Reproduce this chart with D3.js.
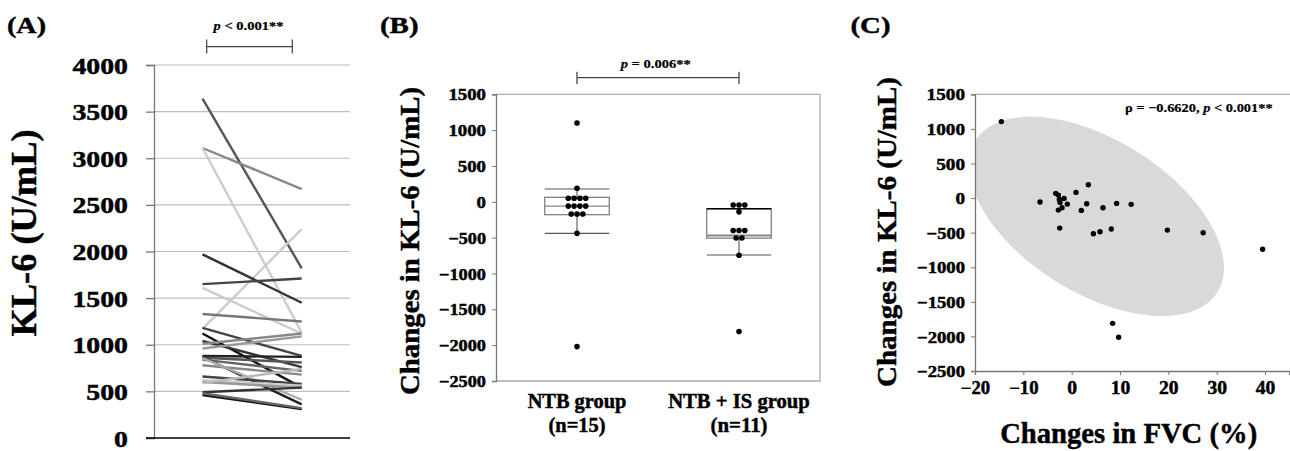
<!DOCTYPE html>
<html><head><meta charset="utf-8">
<script src="https://cdn.jsdelivr.net/npm/d3@7"></script>
<style>
body{margin:0;background:#fff;}
svg{display:block;}
text{font-family:"Liberation Serif","Times New Roman",serif;font-weight:bold;fill:#000;stroke:#000;stroke-width:0.45px;}
text.small{stroke-width:0.2px;}
</style></head><body>
<svg id="c" width="1290" height="451"></svg>
<script>
// ---------- Panel A data ----------
const timepoints = ["Before", "After"];
const kl6Before = [3640, 3110, 3110, 1170, 1970, 1650, 1610, 1330, 1180, 1120, 1040, 1010, 960, 880, 860, 840, 870, 780, 860, 660, 620, 600, 590, 490, 460, 480];
const kl6After  = [1820, 2670, 1130, 2240, 1450, 1710, 1120, 1250, 880, 540, 760, 1120, 1090, 870, 810, 720, 360, 680, 410, 580, 560, 540, 740, 540, 310, 320];
const lineShades = ["#555","#888","#ccc","#ccc","#333","#444","#ccc","#777","#444","#111","#333","#888","#999","#222","#555","#666","#222","#888","#aaa","#444","#ccc","#999","#bbb","#333","#111","#666"];
const kl6Ticks = [0, 500, 1000, 1500, 2000, 2500, 3000, 3500, 4000];

// ---------- Panel B data ----------
const groups = ["NTB group", "NTB + IS group"];
const groupN = ["(n=15)", "(n=11)"];
const ntbChanges   = [1100, 190, 50, 50, 50, 50, -60, -60, -60, -60, -170, -170, -170, -440, -2020];
const ntbIsChanges = [-45, -45, -45, -140, -400, -400, -400, -505, -505, -745, -1810];
const boxQ3 = [63, -96];
const boxMedian = [-59, -470];
const boxQ1 = [-180, -507];
const whiskerHigh = [179, -96];
const whiskerLow = [-440, -742];
const changeTicks = [-2500, -2000, -1500, -1000, -500, 0, 500, 1000, 1500];

// ---------- Panel C data ----------
const fvcChange = [-14.55, -6.55, -3.3, -2.76, -2.55, -1.58, -2.41, -0.9, -2.0, -2.76, 0.9, 3.45, 3.1, 2.0, 6.48, 9.3, 12.3, -2.48, 4.5, 5.86, 8.2, 19.8, 27.2, 39.5, 8.48, 9.72];
const kl6Change = [1105, -58, 68, 43, -19, -5, -63, -87, -140, -174, 82, 193, -83, -178, -140, -77, -91, -434, -516, -487, -448, -463, -502, -741, -1811, -2013];
const fvcTicks = [-20, -10, 0, 10, 20, 30, 40];
const ellipseCenter = [5.1, -265];
const ellipseSpread = [26.4, 1441];
const ellipseCorr = -0.514;

const svg = d3.select("#c");
const FONT = '"Liberation Serif","Times New Roman",serif';

function fitText(sel, perChar, minusW) {
  sel.each(function () {
    const t = d3.select(this);
    const s = t.text();
    let w = 0;
    for (const ch of s) w += (ch === "-" ? minusW : perChar);
    t.attr("textLength", w).attr("lengthAdjust", "spacingAndGlyphs");
  });
}
function label(x, y, str, size, len, opts = {}) {
  const t = svg.append("text").attr("x", x).attr("y", y)
    .attr("font-size", size).attr("text-anchor", opts.anchor || "start");
  if (opts.cls) t.attr("class", opts.cls);
  if (opts.rotate) t.attr("transform", `rotate(-90,${x},${y})`);
  if (opts.parts) {
    opts.parts.forEach(p => t.append("tspan").attr("font-style", p[1] ? "italic" : null).text(p[0]));
  } else t.text(str);
  if (len) t.attr("textLength", len).attr("lengthAdjust", "spacingAndGlyphs");
  return t;
}

// ================= Panel A =================
const yA = d3.scaleLinear().domain([0, 4000]).range([438, 65]);
const xA = d3.scalePoint().domain(timepoints).range([202.5, 301.7]);
const gA = svg.append("g");
gA.selectAll("line.grid").data(kl6Ticks.filter(d => d > 0)).join("line")
  .attr("x1", 154).attr("x2", 350).attr("y1", d => yA(d)).attr("y2", d => yA(d))
  .attr("stroke", "#bdbdbd").attr("stroke-width", 1.2);
const axA = gA.append("g").attr("transform", "translate(154,0)")
  .call(d3.axisLeft(yA).tickValues(kl6Ticks).tickSize(8).tickPadding(18).tickFormat(d3.format("d")));
axA.select(".domain").attr("stroke", "#777").attr("stroke-width", 1.3);
axA.selectAll(".tick line").attr("stroke", "#777").attr("stroke-width", 1.3);
axA.selectAll(".tick text").attr("font-size", 23).attr("font-family", FONT).attr("font-weight", "bold").attr("dy", "0.35em");
fitText(axA.selectAll(".tick text"), 13.9, 8);
gA.append("line").attr("x1", 146).attr("x2", 350).attr("y1", yA(0)).attr("y2", yA(0))
  .attr("stroke", "#000").attr("stroke-width", 1.5);
const pairs = kl6Before.map((b, i) => ({ b, a: kl6After[i], c: lineShades[i] }));
gA.selectAll("line.pt").data(pairs).join("line")
  .attr("x1", xA("Before")).attr("x2", xA("After"))
  .attr("y1", d => yA(d.b)).attr("y2", d => yA(d.a))
  .attr("stroke", d => d.c).attr("stroke-width", 2.4);
label(7, 32.5, "(A)", 24, 39);
label(36, 233, "KL-6 (U/mL)", 35, 207, { anchor: "middle", rotate: true });
svg.append("path").attr("d", "M206.7,39.5V53.5M206.7,46.7H292.3M292.3,39.5V53.5")
  .attr("stroke", "#444").attr("stroke-width", 1.2).attr("fill", "none");
label(248.5, 29.5, null, 12.5, 70, { anchor: "middle", cls: "small", parts: [["p", true], [" < 0.001**", false]] });

// ================= Panel B =================
const yB = d3.scaleLinear().domain([-2500, 1500]).range([381, 94.3]);
const xB = d3.scalePoint().domain(groups).range([496, 820]).padding(0.5);
const gB = svg.append("g");
gB.append("path").attr("d", `M496,94.3H820V381H496`).attr("fill", "none").attr("stroke", "#aaa").attr("stroke-width", 1.3);
const axB = gB.append("g").attr("transform", "translate(496,0)")
  .call(d3.axisLeft(yB).tickValues(changeTicks).tickSize(4).tickPadding(6).tickFormat(d3.format("d")));
axB.select(".domain").attr("stroke", "#777").attr("stroke-width", 1.3);
axB.selectAll(".tick line").attr("stroke", "#777");
axB.selectAll(".tick text").attr("font-size", 16).attr("font-family", FONT).attr("font-weight", "bold").attr("dy", "0.35em").attr("stroke-width", 0.35);
fitText(axB.selectAll(".tick text"), 9.4, 7.7);

const boxW = 64.5;
const allB = [ntbChanges, ntbIsChanges];
groups.forEach((g, i) => {
  const cx = xB(g);
  const gg = gB.append("g");
  gg.append("line").attr("x1", cx).attr("x2", cx).attr("y1", yB(whiskerHigh[i])).attr("y2", yB(whiskerLow[i]))
    .attr("stroke", "#666").attr("stroke-width", 1.2);
  [whiskerHigh[i], whiskerLow[i]].forEach(v => {
    if (v === boxQ3[i]) return;
    gg.append("line").attr("x1", cx - boxW / 2).attr("x2", cx + boxW / 2).attr("y1", yB(v)).attr("y2", yB(v))
      .attr("stroke", "#555").attr("stroke-width", 1.2);
  });
  gg.append("rect").attr("x", cx - boxW / 2).attr("width", boxW)
    .attr("y", yB(boxQ3[i])).attr("height", yB(boxQ1[i]) - yB(boxQ3[i]))
    .attr("fill", "#fff").attr("stroke", "#777").attr("stroke-width", 1.2);
  if (i === 1) gg.append("line").attr("x1", cx - boxW / 2).attr("x2", cx + boxW / 2).attr("y1", yB(boxQ3[i])).attr("y2", yB(boxQ3[i]))
    .attr("stroke", "#000").attr("stroke-width", 1.6);
  gg.append("line").attr("x1", cx - boxW / 2).attr("x2", cx + boxW / 2).attr("y1", yB(boxMedian[i])).attr("y2", yB(boxMedian[i]))
    .attr("stroke", "#888").attr("stroke-width", i === 1 ? 2 : 1.3);
  const counts = d3.rollup(allB[i], v => v.length, d => d);
  const seen = new Map();
  const dots = allB[i].map(v => {
    const k = seen.get(v) || 0; seen.set(v, k + 1);
    const n = counts.get(v);
    return { v, off: (k - (n - 1) / 2) * 5.8 };
  });
  gg.selectAll("circle").data(dots).join("circle")
    .attr("cx", d => cx + d.off).attr("cy", d => yB(d.v)).attr("r", 2.8).attr("fill", "#000");
  label(cx, 408, g, 20, g.length === 9 ? 98.7 : 141.7, { anchor: "middle" });
  label(cx, 432, groupN[i], 20, 57, { anchor: "middle" });
});
label(380, 32.5, "(B)", 24, 38.5);
label(419, 241, "Changes in KL-6 (U/mL)", 28, 308, { anchor: "middle", rotate: true });
svg.append("path").attr("d", `M${xB(groups[0])},71.7V84M${xB(groups[0])},77.7H${xB(groups[1])}M${xB(groups[1])},71.7V84`)
  .attr("stroke", "#444").attr("stroke-width", 1.3).attr("fill", "none");
label(655.7, 68.3, null, 12.5, 70, { anchor: "middle", cls: "small", parts: [["p", true], [" = 0.006**", false]] });

// ================= Panel C =================
const xC = d3.scaleLinear().domain([-20, 45]).range([975, 1289.2]);
const yC = d3.scaleLinear().domain([-2500, 1500]).range([371, 94.3]);
const gC = svg.append("g");
svg.append("clipPath").attr("id", "clipC").append("rect")
  .attr("x", 975).attr("y", 94.3).attr("width", 320).attr("height", 371 - 94.3);
const tt = d3.range(0, 2 * Math.PI + 0.001, Math.PI / 90);
const ellPts = tt.map(t => [
  ellipseCenter[0] + ellipseSpread[0] * Math.cos(t),
  ellipseCenter[1] + ellipseSpread[1] * (ellipseCorr * Math.cos(t) + Math.sqrt(1 - ellipseCorr * ellipseCorr) * Math.sin(t))
]);
gC.append("path").attr("clip-path", "url(#clipC)")
  .attr("d", d3.line().x(d => xC(d[0])).y(d => yC(d[1]))(ellPts) + "Z")
  .attr("fill", "#d9d9d9").attr("stroke", "none");
gC.append("path").attr("d", `M975,94.3H1290`).attr("stroke", "#aaa").attr("stroke-width", 1.3);
const axCy = gC.append("g").attr("transform", "translate(975,0)")
  .call(d3.axisLeft(yC).tickValues(changeTicks).tickSize(4).tickPadding(6).tickFormat(d3.format("d")));
axCy.select(".domain").attr("stroke", "#777").attr("stroke-width", 1.3);
axCy.selectAll(".tick line").attr("stroke", "#777");
axCy.selectAll(".tick text").attr("font-size", 16).attr("font-family", FONT).attr("font-weight", "bold").attr("dy", "0.35em").attr("stroke-width", 0.35);
fitText(axCy.selectAll(".tick text"), 9.6, 6.8);
const axCx = gC.append("g").attr("transform", "translate(0,371)")
  .call(d3.axisBottom(xC).tickValues(fvcTicks).tickSize(4).tickPadding(6).tickFormat(d3.format("d")));
axCx.select(".domain").attr("stroke", "#777").attr("stroke-width", 1.3);
axCx.selectAll(".tick line").attr("stroke", "#777");
axCx.selectAll(".tick text").attr("font-size", 18).attr("font-family", FONT).attr("font-weight", "bold").attr("dy", "0.71em").attr("stroke-width", 0.35);
fitText(axCx.selectAll(".tick text"), 9.8, 8);
const pts = fvcChange.map((x, i) => ({ x, y: kl6Change[i] }));
gC.selectAll("circle").data(pts).join("circle")
  .attr("cx", d => xC(d.x)).attr("cy", d => yC(d.y)).attr("r", 2.7).attr("fill", "#000");
label(850.5, 33, "(C)", 24, 40);
label(896, 232, "Changes in KL-6 (U/mL)", 28, 310, { anchor: "middle", rotate: true });
label(1128.7, 443, "Changes in FVC (%)", 30, 257, { anchor: "middle" });
label(1272.7, 111.7, null, 12.5, 147.7, { anchor: "end", cls: "small", parts: [["ρ = −0.6620, ", false], ["p", true], [" < 0.001**", false]] });
</script>
</body></html>
